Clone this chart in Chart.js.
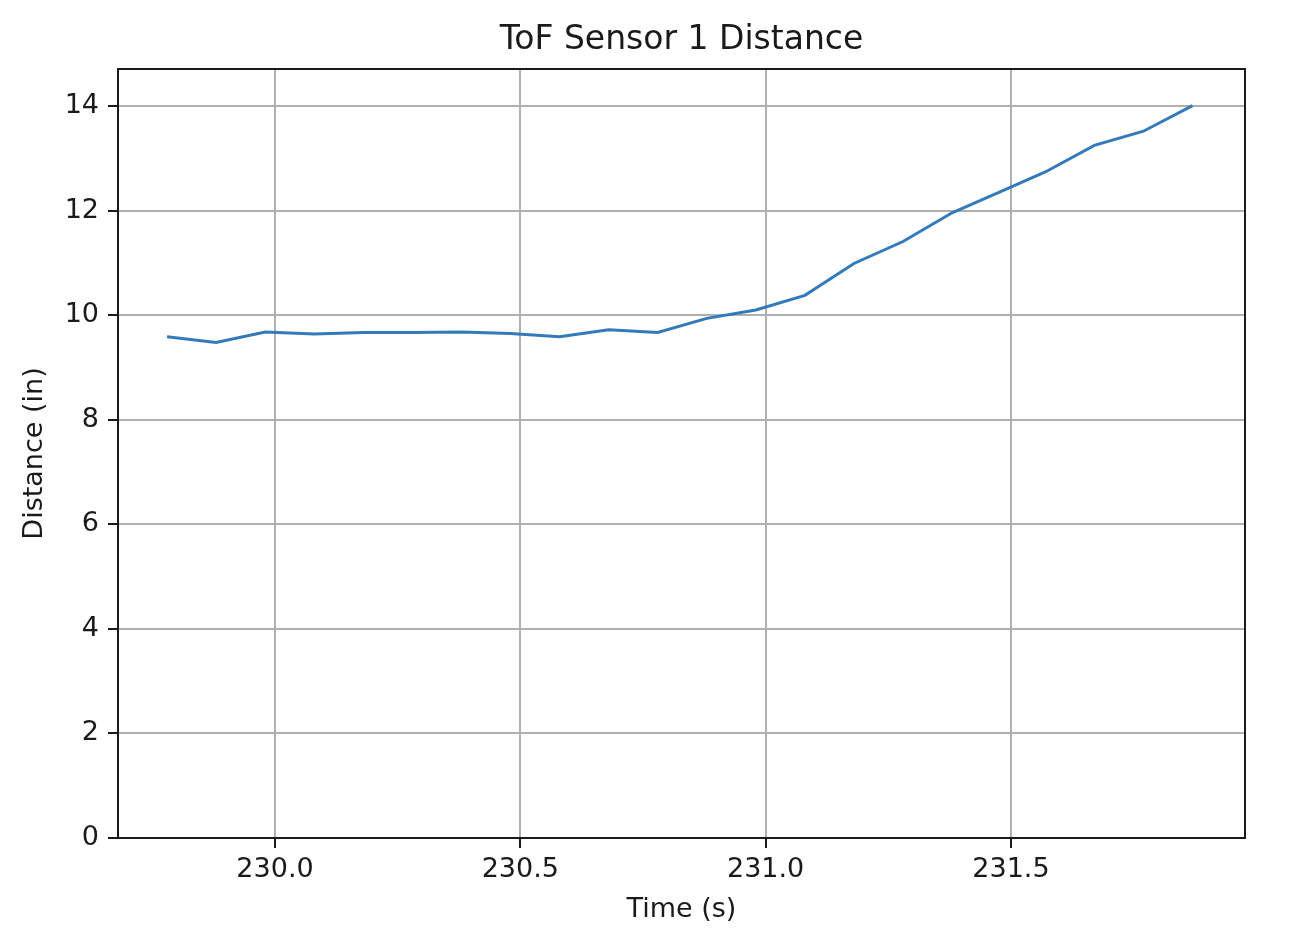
<!DOCTYPE html>
<html>
<head>
<meta charset="utf-8">
<script src="https://cdn.jsdelivr.net/npm/chart.js@4.4.1/dist/chart.umd.min.js"></script>
<style>
  html, body { margin: 0; padding: 0; background: #fff; }
  #wrap { width: 1300px; height: 950px; position: relative; }
</style>
</head>
<body>
<div id="wrap"><canvas id="tofChart"></canvas></div>
<script>
// values
const times = [229.78, 229.88, 229.98, 230.08, 230.18, 230.28, 230.38, 230.48, 230.58, 230.68, 230.78,
               230.88, 230.98, 231.08, 231.18, 231.28, 231.38, 231.48, 231.57, 231.67, 231.77, 231.87];
const distances = [9.59, 9.48, 9.68, 9.64, 9.67, 9.67, 9.68, 9.65, 9.59, 9.72, 9.67,
                   9.94, 10.10, 10.38, 10.99, 11.41, 11.96, 12.37, 12.74, 13.25, 13.52, 14.01];
const xTicks = [230.0, 230.5, 231.0, 231.5];
const yTicks = [0, 2, 4, 6, 8, 10, 12, 14];

const titleText = "ToF Sensor 1 Distance";
const fontFamily = "'DejaVu Sans', sans-serif";

// frame around the plot + title centred over the axes
const framePlugin = {
  id: "frame",
  afterDraw(chart) {
    const { ctx, chartArea: a } = chart;
    ctx.save();
    ctx.strokeStyle = "#1a1a1a";
    ctx.lineWidth = 2;
    ctx.strokeRect(a.left, a.top, a.right - a.left, a.bottom - a.top);
    ctx.fillStyle = "#1a1a1a";
    ctx.font = "33px " + fontFamily;
    ctx.textAlign = "center";
    ctx.textBaseline = "middle";
    ctx.fillText(titleText, (a.left + a.right) / 2, 40);
    ctx.restore();
  },
};

const ctx = document.getElementById("tofChart").getContext("2d");
new Chart(ctx, {
  type: "line",
  data: {
    datasets: [
      {
        label: "ToF 1",
        data: times.map((t, i) => ({ x: t, y: distances[i] })),
        borderColor: "#337abb",
        borderWidth: 3,
        pointRadius: 0,
        tension: 0,
        fill: false,
      },
    ],
  },
  options: {
    responsive: true,
    maintainAspectRatio: false,
    devicePixelRatio: 1,
    animation: false,
    layout: { padding: { left: 0, right: 55, top: 69, bottom: 0 } },
    plugins: {
      legend: { display: false },
      tooltip: { enabled: false },
    },
    scales: {
      x: {
        type: "linear",
        min: 229.68,
        max: 231.977,
        afterBuildTicks: (s) => { s.ticks = xTicks.map((v) => ({ value: v })); },
        afterFit: (s) => { s.height = 112; },
        ticks: {
          color: "#1a1a1a",
          font: { family: fontFamily, size: 27 },
          padding: 6,
          maxRotation: 0,
          callback: (v) => Number(v).toFixed(1),
        },
        grid: { color: "#b0b0b0", lineWidth: 2, tickColor: "#1a1a1a", tickLength: 10, tickWidth: 2 },
        border: { display: true, color: "#1a1a1a", width: 2 },
        title: {
          display: true,
          text: "Time (s)",
          color: "#1a1a1a",
          font: { family: fontFamily, size: 27 },
          padding: { top: 0, bottom: 24 },
        },
      },
      y: {
        min: 0,
        max: 14.71,
        afterBuildTicks: (s) => { s.ticks = yTicks.map((v) => ({ value: v })); },
        afterFit: (s) => { s.width = 118; },
        ticks: {
          color: "#1a1a1a",
          font: { family: fontFamily, size: 27 },
          padding: 9,
        },
        grid: { color: "#b0b0b0", lineWidth: 2, tickColor: "#1a1a1a", tickLength: 10, tickWidth: 2 },
        border: { display: true, color: "#1a1a1a", width: 2 },
        title: {
          display: true,
          text: "Distance (in)",
          color: "#1a1a1a",
          font: { family: fontFamily, size: 27 },
          padding: { top: 19, bottom: 0 },
        },
      },
    },
  },
  plugins: [framePlugin],
});
</script>
</body>
</html>
